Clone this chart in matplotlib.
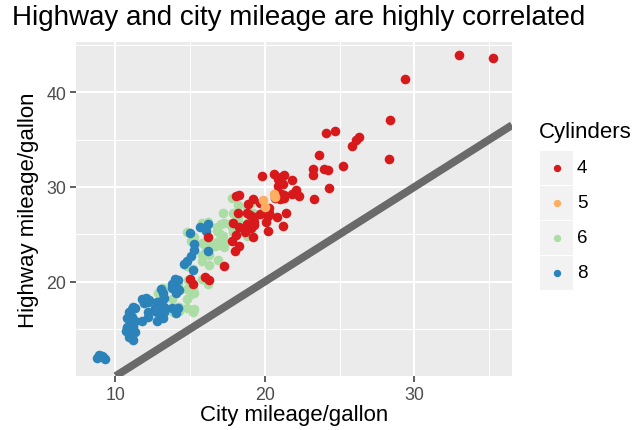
import matplotlib
matplotlib.use("Agg")
import matplotlib.pyplot as plt
from matplotlib.patches import Rectangle

plt.rcParams['font.family'] = ['Liberation Sans', 'DejaVu Sans']

# mpg data (city vs highway), with the jitter
cty_4 = [18.1, 20.8, 19.8, 21.2, 18.3, 16.2, 19.7, 19.3, 18.8, 22.1,
         17.8, 28.3, 23.95, 25.2, 23.3, 24.2, 25.8, 24.7, 24.1, 21.3,
         17.9, 18.2, 20.9, 20.6, 19.1, 19.2, 20.3, 19.9, 21.1, 19.0,
         23.2, 23.2, 18.1, 18.3, 20.2, 18.7, 20.1, 18.0, 21.2, 18.8,
         19.3, 19.0, 19.7, 20.2, 19.2, 20.3, 15.0, 16.0, 20.7, 21.4,
         21.1, 20.9, 20.8, 21.2, 21.3, 21.8, 24.3, 23.6, 26.3, 28.35,
         26.1, 15.2, 16.3, 17.3, 20.7, 19.2, 21.0, 22.3, 32.95, 21.3,
         18.9, 21.8, 21.1, 35.25, 29.4, 20.9, 19.3, 21.2, 18.3, 18.9,
         20.8]
hwy_4 = [29.0, 29.2, 31.2, 30.3, 25.8, 24.7, 28.3, 26.8, 27.3, 29.7,
         24.3, 32.9, 31.9, 32.2, 28.75, 31.8, 34.3, 35.9, 35.7, 28.8,
         26.2, 27.3, 30.1, 31.4, 25.7, 28.7, 27.8, 27.2, 29.3, 27.0,
         31.3, 31.9, 24.9, 23.8, 26.9, 25.2, 26.3, 23.2, 25.9, 26.1,
         26.3, 25.8, 27.1, 25.3, 24.7, 27.2, 20.3, 20.5, 28.8, 27.2,
         31.1, 30.8, 26.8, 29.1, 31.3, 30.7, 29.9, 33.4, 35.3, 37.1,
         34.95, 19.8, 20.2, 21.7, 29.3, 26.2, 28.7, 29.0, 43.95, 29.2,
         25.9, 29.3, 28.9, 43.6, 41.4, 29.1, 26.0, 28.8, 29.2, 28.2,
         29.0]

cty_5 = [20.6, 20.7, 20.0, 19.9]
hwy_5 = [29.3, 28.9, 27.9, 28.6]

cty_6 = [16.2, 17.8, 18.2, 14.8, 17.2, 16.8, 15.3, 15.1, 17.0, 18.3,
         17.8, 17.3, 16.7, 15.8, 16.3, 17.2, 16.9, 11.2, 14.8, 15.2,
         16.1, 15.8, 15.1, 13.8, 13.2, 14.2, 12.8, 13.9, 14.8, 14.3,
         13.2, 14.1, 13.7, 18.1, 17.9, 16.8, 16.2, 18.2, 17.7, 19.1,
         17.3, 15.8, 17.1, 16.9, 15.3, 14.9, 14.3, 12.9, 19.2, 18.9,
         18.2, 19.1, 18.8, 14.0, 15.2, 14.2, 17.9, 15.8, 17.2, 18.2,
         15.2, 14.8, 16.2, 18.3, 18.0, 18.8, 17.8, 18.1, 17.9, 15.3,
         15.0, 14.8, 15.8, 17.2, 16.8, 16.3, 16.1, 18.0, 17.1]
hwy_6 = [26.3, 26.2, 26.8, 25.2, 24.8, 25.3, 24.7, 24.3, 25.0, 25.7,
         28.8, 26.2, 23.8, 22.2, 21.8, 24.3, 23.9, 17.2, 21.7, 21.3,
         23.3, 22.8, 18.7, 18.2, 16.7, 17.3, 17.2, 16.8, 19.2, 16.9,
         19.3, 17.2, 17.1, 26.3, 25.2, 25.8, 24.2, 25.9, 26.1, 28.3,
         23.7, 24.1, 24.2, 22.3, 18.8, 20.2, 17.3, 18.8, 27.2, 26.3,
         26.1, 25.2, 24.8, 16.7, 16.8, 19.7, 25.7, 26.2, 27.3, 28.1,
         19.3, 17.2, 19.8, 26.2, 26.0, 27.8, 25.8, 26.3, 27.2, 17.1,
         19.0, 18.2, 20.3, 24.1, 24.2, 22.8, 25.8, 26.4, 26.1]

cty_8 = [16.2, 14.2, 10.8, 13.8, 13.1, 12.2, 16.2, 15.3, 15.7, 15.0,
         15.3, 14.2, 11.2, 10.7, 14.2, 13.8, 14.1, 8.8, 11.2, 11.1,
         12.8, 9.1, 13.3, 10.8, 13.2, 11.3, 12.2, 9.3, 12.7, 13.1,
         11.8, 8.9, 11.2, 11.1, 13.3, 10.8, 10.9, 11.3, 12.2, 13.2,
         12.9, 13.2, 12.8, 13.0, 11.0, 13.3, 15.2, 14.8, 15.1, 14.6,
         14.0, 13.8, 9.2, 14.3, 12.8, 10.9, 11.2, 11.8, 12.1, 10.9,
         11.1, 11.3, 12.3, 13.1, 12.7, 11.9, 16.1, 14.1, 11.1, 13.3]
hwy_8 = [23.2, 20.2, 15.2, 19.8, 17.3, 16.8, 26.1, 23.3, 25.8, 25.1,
         24.0, 19.2, 13.8, 14.8, 17.2, 19.3, 18.8, 11.9, 17.3, 15.2,
         16.8, 12.2, 17.1, 16.2, 18.2, 14.7, 16.3, 11.8, 17.2, 16.7,
         15.8, 12.3, 15.3, 16.3, 17.3, 15.1, 16.8, 17.2, 17.8, 18.8,
         17.0, 16.2, 15.8, 17.3, 14.8, 16.8, 21.2, 22.2, 22.7, 21.9,
         20.3, 17.2, 12.0, 19.1, 17.8, 14.2, 14.9, 18.2, 18.3, 15.3,
         17.1, 15.8, 18.1, 19.2, 16.9, 17.7, 25.3, 16.7, 15.0, 18.3]

groups = ['4', '5', '6', '8']
colors = {'4': '#d7191c', '5': '#fdae61', '6': '#abdda4', '8': '#2b83ba'}
data = {'4': (cty_4, hwy_4), '5': (cty_5, hwy_5),
        '6': (cty_6, hwy_6), '8': (cty_8, hwy_8)}

W, H = 636, 431
fig = plt.figure(figsize=(W / 100, H / 100), dpi=100)
ax = fig.add_axes([76 / W, 1 - 377 / H, (512 - 76) / W, (377 - 43) / H])
ax.set_facecolor('#ebebeb')
for s in ax.spines.values():
    s.set_visible(False)

for g in ['6', '8', '4', '5']:
    x, y = data[g]
    ax.scatter(x, y, s=48, color=colors[g], linewidths=0, zorder=3)

# y = x reference line
ax.axline((10, 10), slope=1, color='#6a6a6a', lw=5.6, zorder=4,
          solid_capstyle='butt')

ax.set_xlim(7.39, 36.52)
ax.set_ylim(10.04, 45.3)
ax.set_xticks([10, 20, 30])
ax.set_yticks([20, 30, 40])
ax.set_xticks([15, 25, 35], minor=True)
ax.set_yticks([15, 25, 35, 45], minor=True)
ax.grid(which='major', color='white', lw=1.5, zorder=0)
ax.grid(which='minor', color='white', lw=0.75, zorder=0)
ax.set_axisbelow(True)
ax.tick_params(which='major', length=4, width=1.1, color='#333333',
               labelcolor='#4d4d4d', labelsize=12.8, pad=3)
ax.tick_params(which='minor', length=0)

fig.text(12 / W, 1 - 5 / H, 'Highway and city mileage are highly correlated',
         fontsize=20, color='black', ha='left', va='top')
fig.text(294 / W, 1 - 416 / H, 'City mileage/gallon', fontsize=16,
         ha='center', va='center')
fig.text(28.5 / W, 1 - 210 / H, 'Highway mileage/gallon', fontsize=16,
         ha='center', va='center', rotation=90)

# legend drawn by hand in pixel units
lax = fig.add_axes([0, 0, 1, 1])
lax.set_xlim(0, W)
lax.set_ylim(H, 0)
lax.axis('off')
lax.patch.set_visible(False)
lax.text(539, 133, 'Cylinders', fontsize=16, ha='left', va='center')
for i, g in enumerate(groups):
    top = 152 + i * 35
    lax.add_patch(Rectangle((539.5, top), 33.5, 34, color='#f2f2f2', lw=0))
    lax.scatter([556.5], [top + 17], s=28, color=colors[g], linewidths=0)
    lax.text(577, top + 17, g, fontsize=13.5, ha='left', va='center',
             color='black')

fig.savefig('out.png', dpi=100)
